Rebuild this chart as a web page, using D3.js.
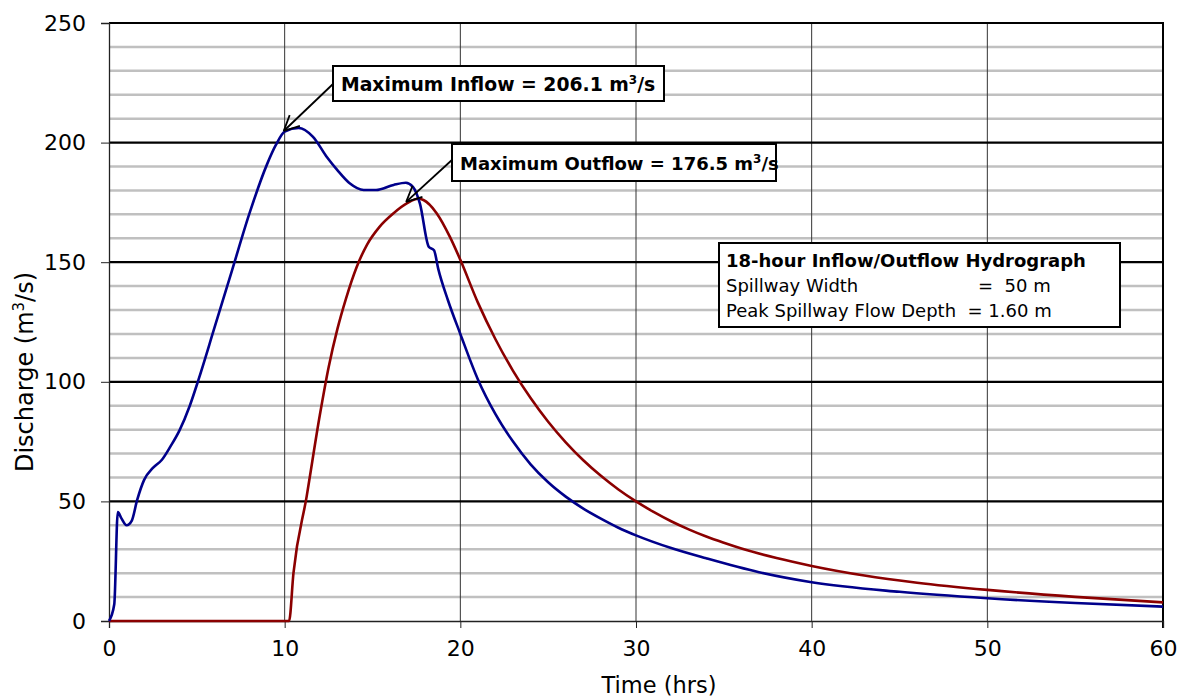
<!DOCTYPE html>
<html><head><meta charset="utf-8">
<script src="https://cdn.jsdelivr.net/npm/d3@7"></script>
<style>
body{margin:0;background:#fff}
svg{display:block}
text{font-family:"DejaVu Sans",Verdana,sans-serif;fill:#000;white-space:pre}
</style>
</head><body>
<svg id="chart" width="1183" height="700"></svg>
<script>
// ---- data ----
const inflowTime = [0,0.3,0.5,0.7,1.0,1.3,1.6,2.0,2.5,3.0,3.5,4.0,4.6,5.1,6,7,8,9,9.5,10,10.8,11.6,12.4,13,13.7,14.5,15.2,16.2,16.9,17.3,17.7,18.2,18.5,18.75,19.3,20,21,22,23,24,25,26,27,28,29,30,32,34,37,40,45,50,55,60];
const inflowQ    = [0,7,45.5,43,40,42,50.5,59,64,67.3,73,79.5,90,101,122.5,146.5,170.5,191,199,204.6,206.1,202.5,194,188.5,183,180.2,180.2,182.3,183.2,181.5,174.5,156.5,155,147,134,120,101,86.5,75,65.5,58,52,47,42.8,39,35.8,30.5,26.2,20.4,16.2,12.2,9.5,7.5,6];
const outflowTime = [0,10.25,10.5,11.25,12,12.5,13,13.5,14.1,14.7,15.4,16.2,17,17.6,17.9,18.65,19.4,20,21,22,23,24,25,26,27,28,29,30,31,32,33,34,35,36,38,40,43,46,50,55,60];
const outflowQ    = [0,0,20,52,86,106,122,135,148,157.5,164.8,170.5,174.8,176.5,176,170.5,160.7,151,133.1,117.8,104.6,93.2,83.3,74.7,67.2,60.7,55,50,45.6,41.7,38.3,35.3,32.7,30.3,26.3,23,19,16,13,10.1,7.8];
const xTicks = [0,10,20,30,40,50,60];
const yTicks = [0,50,100,150,200,250];
const yMinor = [10,20,30,40,60,70,80,90,110,120,130,140,160,170,180,190,210,220,230,240];
const labels = {
  x: "Time (hrs)",
  y: ["Discharge (m","3","/s)"],
  inflowNote: ["Maximum Inflow = 206.1 m","3","/s"],
  outflowNote: ["Maximum Outflow = 176.5 m","3","/s"],
  infoTitle: "18-hour Inflow/Outflow Hydrograph",
  infoLine1: ["Spillway Width","=  50 m"],
  infoLine2: "Peak Spillway Flow Depth  = 1.60 m"
};
const peakInflow = {t:10.8, q:206.1};
const peakOutflow = {t:17.6, q:176.5};

// ---- chart ----
const svg = d3.select("#chart");
const x = d3.scaleLinear().domain([0,60]).range([109,1163]);
const y = d3.scaleLinear().domain([0,250]).range([621,23]);

// minor horizontal grid
svg.append("g").selectAll("line").data(yMinor).join("line")
  .attr("x1",x(0)).attr("x2",x(60)).attr("y1",d=>y(d)).attr("y2",d=>y(d))
  .attr("stroke","#c0c0c0").attr("stroke-width",2.5);

// vertical grid
svg.append("g").selectAll("line").data(xTicks.slice(1,-1)).join("line")
  .attr("x1",d=>x(d)).attr("x2",d=>x(d)).attr("y1",y(0)).attr("y2",y(250))
  .attr("stroke","#333").attr("stroke-width",1);

// major horizontal grid
svg.append("g").selectAll("line").data(yTicks.slice(1)).join("line")
  .attr("x1",x(0)).attr("x2",x(60)).attr("y1",d=>y(d)).attr("y2",d=>y(d))
  .attr("stroke","#000").attr("stroke-width",2.2);

// right border
svg.append("line").attr("x1",x(60)).attr("x2",x(60)).attr("y1",y(250)-1).attr("y2",y(0)+7)
  .attr("stroke","#000").attr("stroke-width",2);

// axes
const xAxis = svg.append("g").attr("transform",`translate(0,${y(0)})`)
  .call(d3.axisBottom(x).tickValues(xTicks).tickSize(7).tickPadding(12).tickFormat(d3.format("d")));
xAxis.select(".domain").attr("stroke","#222").attr("stroke-width",1.3);
xAxis.selectAll(".tick line").attr("stroke","#222");
xAxis.selectAll("text").attr("font-size",22).attr("font-family","DejaVu Sans");

const yAxis = svg.append("g").attr("transform",`translate(${x(0)},0)`)
  .call(d3.axisLeft(y).tickValues(yTicks).tickSize(8).tickPadding(15).tickFormat(d3.format("d")));
yAxis.select(".domain").attr("stroke","#222").attr("stroke-width",1.3);
yAxis.selectAll(".tick line").attr("stroke","#222");
yAxis.selectAll("text").attr("font-size",22).attr("font-family","DejaVu Sans");

// axis titles
svg.append("text").attr("x",659).attr("y",693).attr("text-anchor","middle")
  .attr("font-size",22.5).text(labels.x);
const yt = svg.append("text").attr("transform","translate(33,372) rotate(-90)")
  .attr("text-anchor","middle").attr("font-size",24);
yt.append("tspan").text(labels.y[0]);
yt.append("tspan").attr("dy",-9).attr("font-size",15).text(labels.y[1]);
yt.append("tspan").attr("dy",9).text(labels.y[2]);

// series
const line = d3.line().x(d=>x(d[0])).y(d=>y(d[1])).curve(d3.curveMonotoneX);
const outData = outflowTime.map((t,i)=>[t,outflowQ[i]]);
const inData = inflowTime.map((t,i)=>[t,inflowQ[i]]);
svg.append("path").datum(outData).attr("d",line).attr("fill","none")
  .attr("stroke","#8b0000").attr("stroke-width",2.6).attr("stroke-linejoin","round");
svg.append("path").datum(inData).attr("d",line).attr("fill","none")
  .attr("stroke","#00008b").attr("stroke-width",2.6).attr("stroke-linejoin","round");

// annotation helpers
function arrow(x1,y1,x2,y2){
  const g = svg.append("g").attr("stroke","#000").attr("stroke-width",1.8).attr("fill","none");
  g.append("line").attr("x1",x1).attr("y1",y1).attr("x2",x2).attr("y2",y2);
  const a = Math.atan2(y2-y1,x2-x1), L=17, h=0.45;
  [a+Math.PI-h,a+Math.PI+h].forEach(b=>{
    g.append("line").attr("x1",x2).attr("y1",y2)
      .attr("x2",x2+L*Math.cos(b)).attr("y2",y2+L*Math.sin(b));
  });
}
function noteBox(bx,by,bw,bh,parts,fs){
  svg.append("rect").attr("x",bx).attr("y",by).attr("width",bw).attr("height",bh)
    .attr("fill","#fff").attr("stroke","#000").attr("stroke-width",2);
  const t = svg.append("text").attr("x",bx+8).attr("y",by+bh/2+7).attr("font-size",fs).attr("font-weight","bold");
  t.append("tspan").text(parts[0]);
  t.append("tspan").attr("dy",-7).attr("font-size",12).text(parts[1]);
  t.append("tspan").attr("dy",7).text(parts[2]);
}
arrow(333,84,x(peakInflow.t)-15,y(peakInflow.q)+3);
noteBox(333,66,331,35,labels.inflowNote,18.8);
arrow(453,159,x(peakOutflow.t)-12,y(peakOutflow.q)+3);
noteBox(452,144,324,37,labels.outflowNote,18);

// info box
svg.append("rect").attr("x",719).attr("y",243).attr("width",401).attr("height",84)
  .attr("fill","#fff").attr("stroke","#000").attr("stroke-width",2);
svg.append("text").attr("x",726).attr("y",267).attr("font-size",18).attr("font-weight","bold").text(labels.infoTitle);
svg.append("text").attr("x",726).attr("y",292).attr("font-size",18).text(labels.infoLine1[0]);
svg.append("text").attr("x",978).attr("y",292).attr("font-size",18).text(labels.infoLine1[1]);
svg.append("text").attr("x",726).attr("y",317).attr("font-size",18).text(labels.infoLine2);
</script>
</body></html>
